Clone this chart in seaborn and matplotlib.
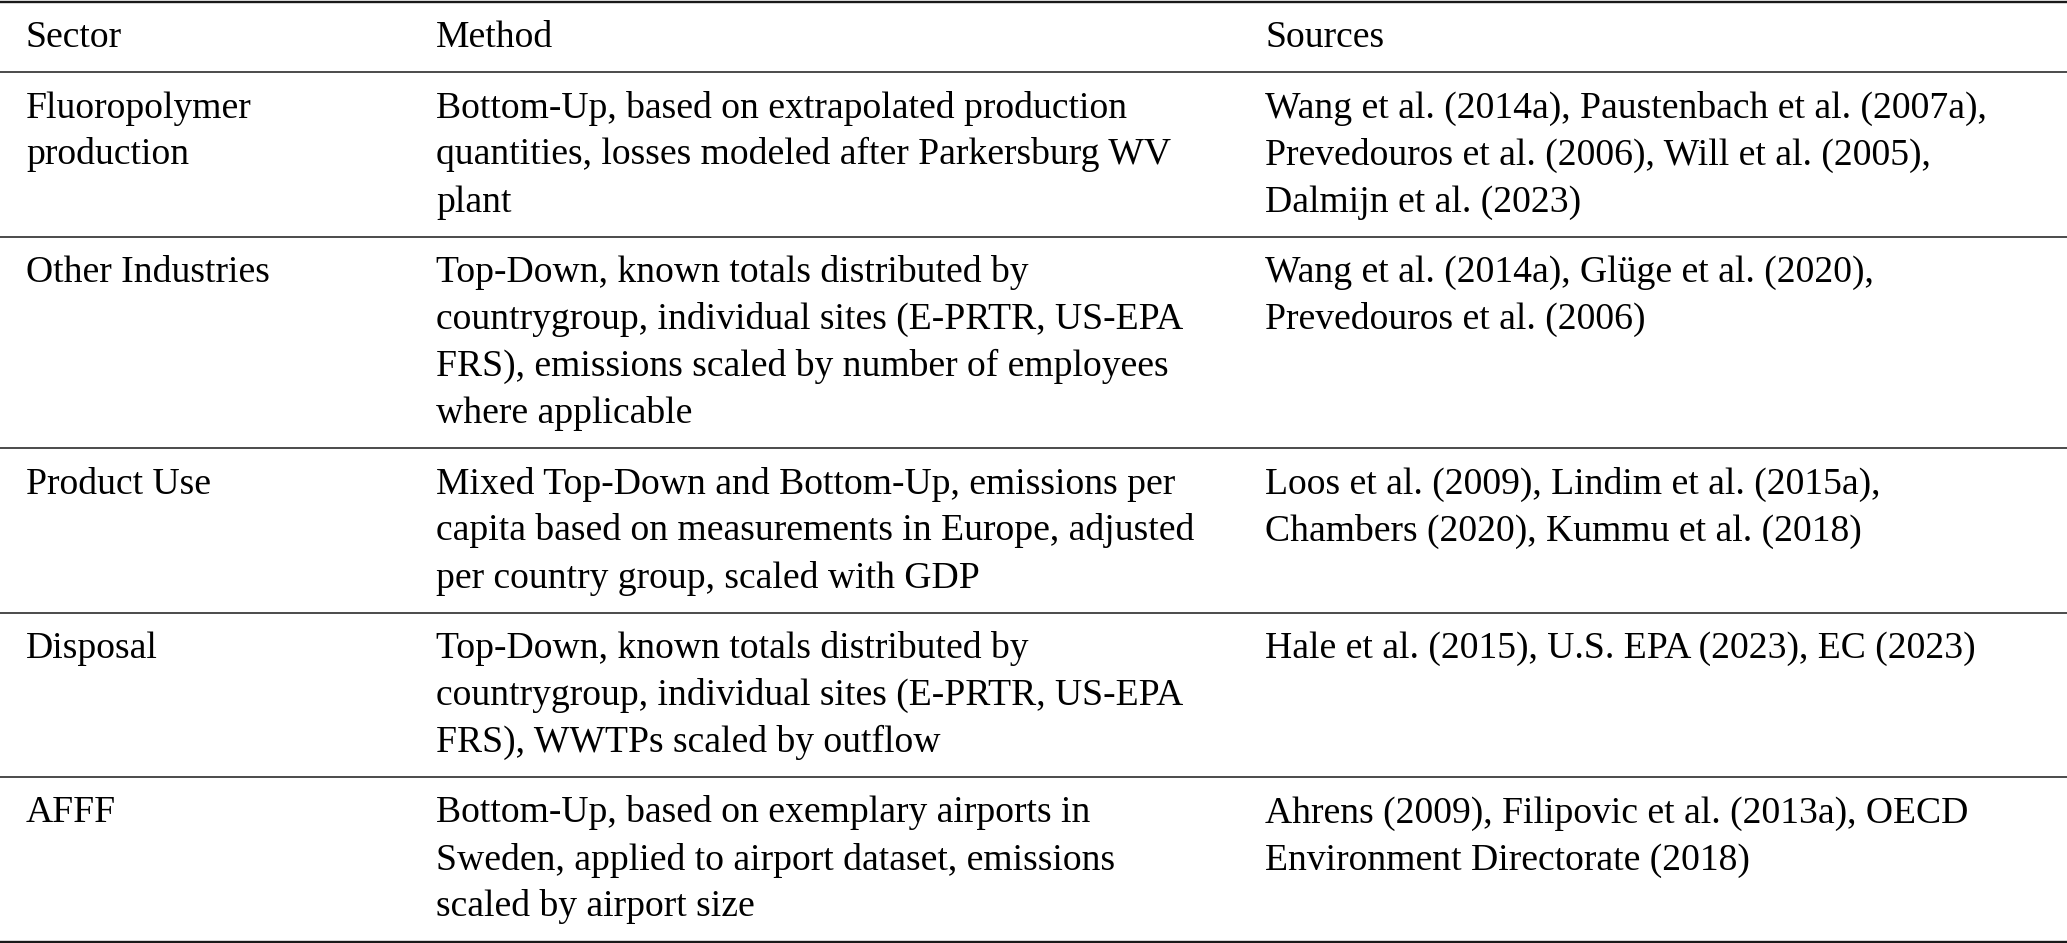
import matplotlib
matplotlib.use("Agg")
import matplotlib.pyplot as plt
import seaborn as sns

# Table content, one list of lines per cell
headers = ["Sector", "Method", "Sources"]

sectors = [
    ["Fluoropolymer", "production"],
    ["Other Industries"],
    ["Product Use"],
    ["Disposal"],
    ["AFFF"],
]

methods = [
    ["Bottom-Up, based on extrapolated production",
     "quantities, losses modeled after Parkersburg WV",
     "plant"],
    ["Top-Down, known totals distributed by",
     "countrygroup, individual sites (E-PRTR, US-EPA",
     "FRS), emissions scaled by number of employees",
     "where applicable"],
    ["Mixed Top-Down and Bottom-Up, emissions per",
     "capita based on measurements in Europe, adjusted",
     "per country group, scaled with GDP"],
    ["Top-Down, known totals distributed by",
     "countrygroup, individual sites (E-PRTR, US-EPA",
     "FRS), WWTPs scaled by outflow"],
    ["Bottom-Up, based on exemplary airports in",
     "Sweden, applied to airport dataset, emissions",
     "scaled by airport size"],
]

sources = [
    ["Wang et al. (2014a), Paustenbach et al. (2007a),",
     "Prevedouros et al. (2006), Will et al. (2005),",
     "Dalmijn et al. (2023)"],
    ["Wang et al. (2014a), Glüge et al. (2020),",
     "Prevedouros et al. (2006)"],
    ["Loos et al. (2009), Lindim et al. (2015a),",
     "Chambers (2020), Kummu et al. (2018)"],
    ["Hale et al. (2015), U.S. EPA (2023), EC (2023)"],
    ["Ahrens (2009), Filipovic et al. (2013a), OECD",
     "Environment Directorate (2018)"],
]

sns.set_style("white")
plt.rcParams["font.family"] = ["Liberation Serif", "DejaVu Serif"]

W, H = 2067, 943
fig = plt.figure(figsize=(W / 100, H / 100), dpi=100)
ax = fig.add_axes([0, 0, 1, 1])
ax.set_xlim(0, W)
ax.set_ylim(H, 0)
ax.axis("off")

col_x = [26, 436, 1265]
first_base = 45.5   # baseline offset below a rule
pitch = 47          # line spacing
bottom_gap = 25     # gap from last baseline to next rule
fs = 27.1

rules = [1.5]
y = rules[0]
rows = [headers and [[h] for h in headers]] + [
    [s, m, r] for s, m, r in zip(sectors, methods, sources)
]
for row in rows:
    n = max(len(c) for c in row)
    for x, cell in zip(col_x, row):
        for i, line in enumerate(cell):
            ax.text(x, y + first_base + i * pitch, line, fontsize=fs,
                    va="baseline", ha="left", color="black")
    y = y + first_base + (n - 1) * pitch + bottom_gap
    rules.append(y)

for i, ry in enumerate(rules):
    lw = 1.7 if i in (0, len(rules) - 1) else 1.1
    ax.axhline(ry, color="#1a1a1a", lw=lw)

fig.savefig("out.png", dpi=100)
